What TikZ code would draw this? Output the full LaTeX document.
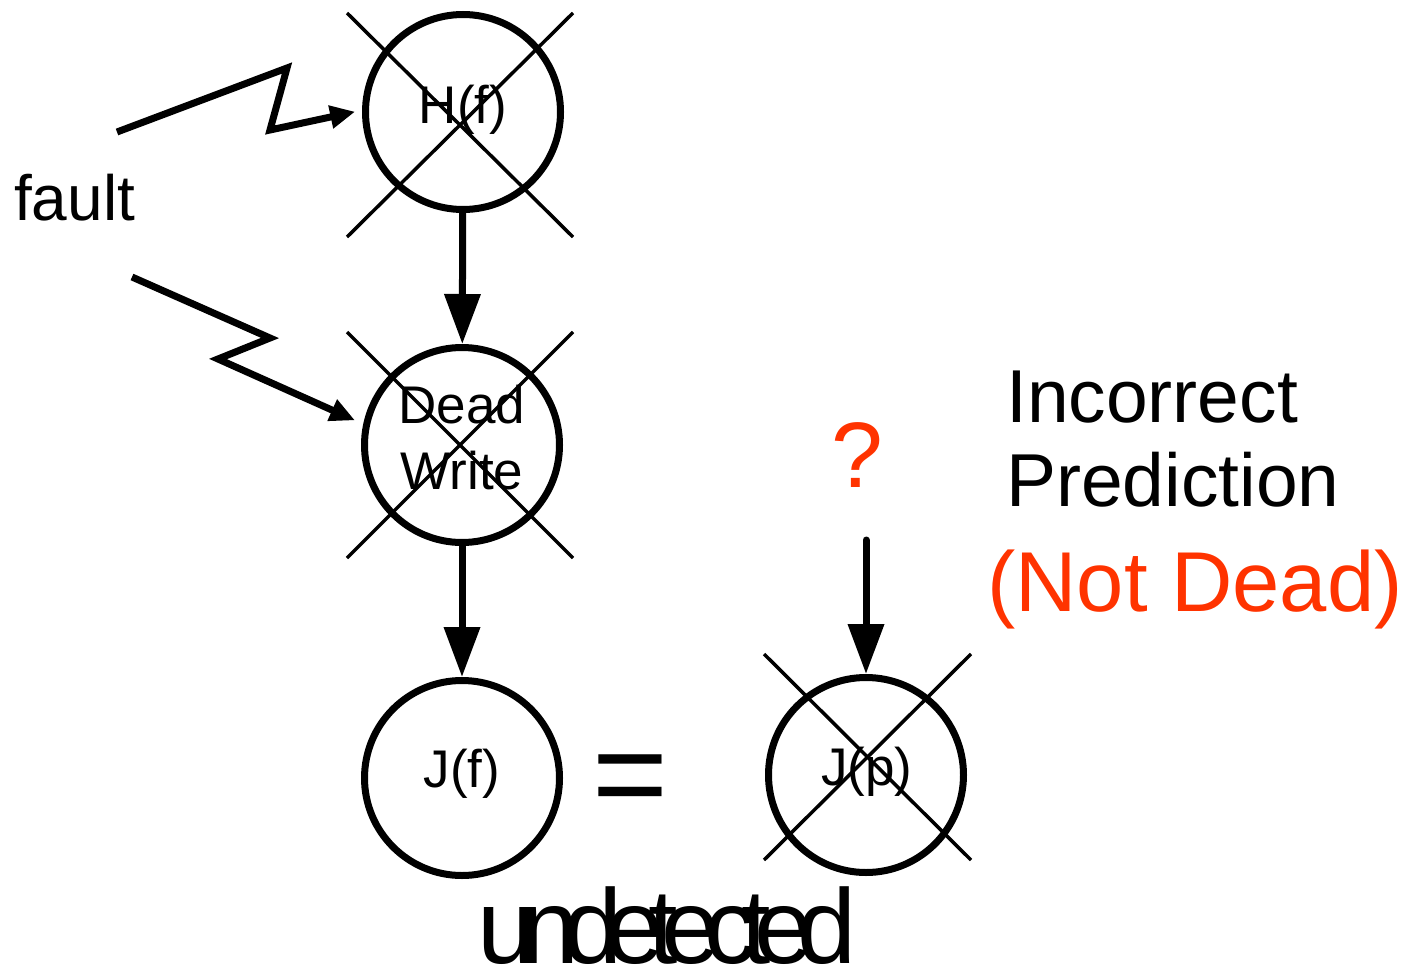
\documentclass[tikz,border=0pt]{standalone}
\usepackage{fontspec}
\setmainfont{Liberation Sans}
\usetikzlibrary{arrows.meta}
\definecolor{alert}{RGB}{255,51,0}
\newcommand{\fs}[2]{\fontsize{#1}{#2}\selectfont}
\newcommand{\tk}{\kern-0.153em}
\begin{document}
\begin{tikzpicture}[x=1pt,y=-1pt,
  ring/.style={circle, draw, line width=7pt, minimum size=195pt, inner sep=0pt},
  xline/.style={line width=3.5pt},
  bigarrow/.style={line width=7pt, -{Triangle[length=50pt,width=35pt]}},
  bolt/.style={line width=7pt, miter limit=10, -{Triangle[length=25pt,width=22pt]}},
  lbl/.style={inner sep=0pt, anchor=base},
  circtext/.style={lbl, font=\fs{53}{66}}
]
\useasboundingbox (0,0) rectangle (1406,969);

% circles
\node[ring] (hf) at (463,112) {};
\node[ring] (dw) at (462,445) {};
\node[ring] (jf) at (462,778) {};
\node[ring] (jp) at (866,775) {};

% circle texts
\node[circtext] (hft) at (463,123) {H(f)};
\node[circtext, anchor=north, align=center] (dwt) at (462,385) {Dead\\Write};
\node[circtext] (jft) at (462,787) {J(f)};
\node[circtext] (jpt) at (867,785) {J(p)};

% crosses
\draw[xline] (347,13) -- (573,237);
\draw[xline] (573,13) -- (347,237);
\draw[xline] (347,332) -- (573,558);
\draw[xline] (573,332) -- (347,558);
\draw[xline] (764,654) -- (971,860);
\draw[xline] (971,654) -- (764,860);

% vertical arrows
\draw[bigarrow] (hf) -- (dw);
\draw[bigarrow] (dw) -- (jf);
\coordinate (qs) at (866,540);
\draw[bigarrow, line cap=round] (qs) -- (jp);

% lightning bolts
\coordinate (b1a) at (117,132);
\coordinate (b1b) at (287,68);
\coordinate (b1c) at (270,130);
\draw[bolt, shorten >=7pt] (b1a) -- (b1b) -- (b1c) -- (hf.179);
\coordinate (b2a) at (132,277);
\coordinate (b2b) at (270,338);
\coordinate (b2c) at (218,359);
\draw[bolt, shorten >=9pt] (b2a) -- (b2b) -- (b2c) -- (dw.168);

% labels
\node[lbl, anchor=base west, font=\fs{64}{80}] (fault) at (14,220) {fault};
\node[lbl, text=alert, font=\fs{93}{100}] (qm) at (857,487) {?};
\node[lbl, anchor=north west, align=left, font=\fs{75}{84}] (inc) at (1006,371) {Incorrect\\Prediction};
\node[lbl, text=alert, font=\fs{85}{90}] (nd) at (1195,611) {(Not Dead)};
\node[lbl, font=\fs{130}{140}] (eq) at (630,818) {=};
\node[lbl, font=\fs{106}{110}] (und) at (667,963) {u\tk n\tk d\tk e\tk t\tk e\tk c\tk t\tk e\tk d};
\end{tikzpicture}
\end{document}
